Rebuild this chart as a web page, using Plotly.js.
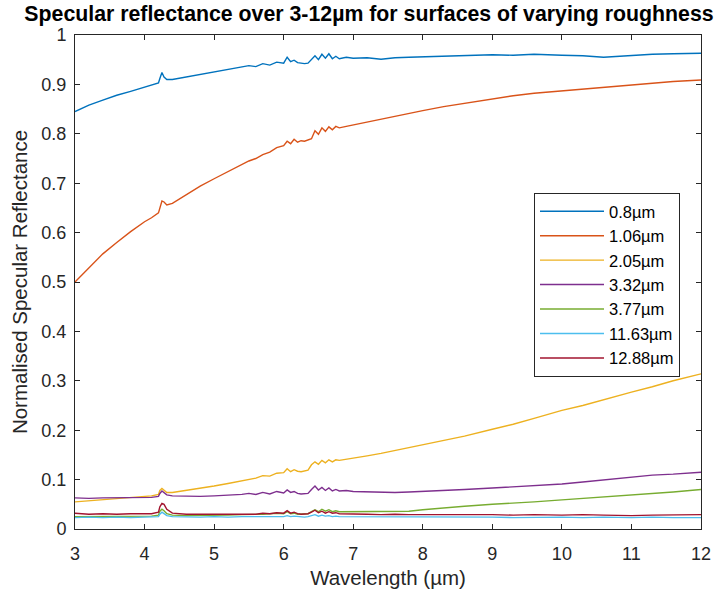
<!DOCTYPE html>
<html>
<head>
<meta charset="utf-8">
<script src="https://cdn.plot.ly/plotly-3.0.1.min.js"></script>
<style>html,body{margin:0;padding:0;background:#fff;}#chart{width:726px;height:592px;}</style>
</head>
<body>
<div id="chart"></div>
<script>
// Wavelength (µm)
const wavelength = [3.0,3.2,3.4,3.6,3.8,4.0,4.1,4.2,4.22,4.25,4.28,4.32,4.4,4.6,4.8,5.0,5.2,5.4,5.5,5.6,5.7,5.8,5.9,6.0,6.05,6.1,6.15,6.2,6.25,6.3,6.35,6.4,6.45,6.5,6.55,6.6,6.65,6.7,6.75,6.8,6.9,7.0,7.2,7.4,7.6,7.8,8.0,8.3,8.6,9.0,9.3,9.6,10.0,10.3,10.6,11.0,11.3,11.6,12.0];

const seriesNames = ["0.8\u00b5m","1.06\u00b5m","2.05\u00b5m","3.32\u00b5m","3.77\u00b5m","11.63\u00b5m","12.88\u00b5m"];
const seriesColors = ["#0072BD","#D95319","#EDB120","#7E2F8E","#77AC30","#4DBEEE","#A2142F"];

const r080 = [0.845,0.858,0.868,0.878,0.886,0.894,0.898,0.903,0.912,0.924,0.915,0.910,0.910,0.915,0.920,0.925,0.929,0.934,0.938,0.936,0.942,0.939,0.945,0.943,0.955,0.946,0.949,0.944,0.943,0.942,0.943,0.950,0.958,0.950,0.961,0.953,0.962,0.952,0.957,0.952,0.955,0.953,0.954,0.951,0.954,0.955,0.956,0.957,0.959,0.960,0.959,0.961,0.959,0.958,0.955,0.959,0.961,0.962,0.963];
const r106 = [0.500,0.529,0.557,0.580,0.602,0.622,0.630,0.640,0.652,0.664,0.662,0.656,0.659,0.677,0.694,0.709,0.723,0.737,0.745,0.750,0.758,0.763,0.772,0.776,0.785,0.780,0.789,0.783,0.786,0.785,0.787,0.790,0.806,0.799,0.812,0.805,0.814,0.808,0.815,0.812,0.815,0.818,0.823,0.829,0.835,0.841,0.847,0.855,0.862,0.871,0.877,0.882,0.887,0.890,0.893,0.899,0.903,0.906,0.909];
const r205 = [0.055,0.057,0.059,0.061,0.063,0.066,0.067,0.070,0.078,0.082,0.079,0.074,0.074,0.078,0.082,0.087,0.092,0.098,0.101,0.103,0.108,0.107,0.113,0.114,0.122,0.116,0.120,0.117,0.116,0.118,0.119,0.130,0.136,0.131,0.139,0.134,0.140,0.136,0.140,0.139,0.141,0.143,0.148,0.153,0.159,0.164,0.170,0.179,0.188,0.202,0.212,0.224,0.240,0.250,0.262,0.277,0.288,0.300,0.314];
const r332 = [0.063,0.062,0.063,0.063,0.063,0.064,0.064,0.066,0.072,0.077,0.074,0.069,0.067,0.066,0.066,0.067,0.068,0.070,0.072,0.070,0.074,0.071,0.076,0.073,0.079,0.074,0.076,0.072,0.071,0.071,0.072,0.080,0.087,0.079,0.084,0.078,0.083,0.077,0.080,0.077,0.078,0.076,0.075,0.075,0.074,0.075,0.076,0.078,0.080,0.083,0.085,0.087,0.091,0.095,0.099,0.104,0.109,0.111,0.115];
const r377 = [0.025,0.025,0.026,0.025,0.025,0.026,0.026,0.028,0.036,0.040,0.037,0.031,0.028,0.027,0.027,0.028,0.028,0.029,0.029,0.030,0.030,0.031,0.032,0.031,0.035,0.031,0.032,0.030,0.030,0.030,0.031,0.035,0.039,0.035,0.040,0.036,0.039,0.035,0.037,0.035,0.035,0.035,0.035,0.035,0.036,0.036,0.039,0.043,0.046,0.050,0.052,0.055,0.059,0.062,0.065,0.068,0.072,0.075,0.080];
const r1163 = [0.023,0.024,0.023,0.024,0.023,0.024,0.024,0.025,0.030,0.034,0.031,0.027,0.025,0.024,0.024,0.025,0.024,0.025,0.025,0.024,0.025,0.024,0.025,0.025,0.027,0.025,0.026,0.025,0.024,0.024,0.025,0.027,0.029,0.026,0.028,0.026,0.027,0.025,0.026,0.025,0.025,0.024,0.024,0.025,0.024,0.024,0.024,0.025,0.024,0.024,0.023,0.024,0.024,0.023,0.024,0.023,0.024,0.023,0.023];
const r1288 = [0.032,0.030,0.031,0.030,0.031,0.030,0.031,0.034,0.045,0.052,0.050,0.040,0.032,0.030,0.030,0.030,0.030,0.031,0.031,0.030,0.032,0.031,0.033,0.032,0.037,0.032,0.034,0.031,0.030,0.030,0.031,0.034,0.038,0.033,0.036,0.032,0.035,0.032,0.033,0.031,0.031,0.030,0.030,0.029,0.030,0.029,0.029,0.030,0.029,0.029,0.028,0.029,0.028,0.029,0.028,0.027,0.028,0.028,0.029];

const xTicks = [3,4,5,6,7,8,9,10,11,12];
const yTicks = [0,0.1,0.2,0.3,0.4,0.5,0.6,0.7,0.8,0.9,1];

const allSeries = [r080, r106, r205, r332, r377, r1163, r1288];
const FONT = "Liberation Sans, Arial, Helvetica, sans-serif";

const traces = allSeries.map((vals, i) => ({
  x: wavelength,
  y: vals,
  type: "scatter",
  mode: "lines",
  name: seriesNames[i],
  line: {color: seriesColors[i], width: 1.4}
}));

const axisCommon = {
  showline: true, mirror: "ticks", linecolor: "#262626", linewidth: 1,
  ticks: "inside", ticklen: 5, tickcolor: "#262626", tickwidth: 1,
  showgrid: false, zeroline: false,
  tickfont: {family: FONT, size: 18, color: "#262626"}
};

const layout = {
  width: 726, height: 592,
  paper_bgcolor: "#ffffff", plot_bgcolor: "#ffffff",
  margin: {l: 75, r: 25, t: 35, b: 63, autoexpand: false},
  title: {
    text: "<b>Specular reflectance over 3-12\u00b5m for surfaces of varying roughness</b>",
    font: {family: FONT, size: 21.3, color: "#000000"},
    x: 369/726, xref: "container", xanchor: "center",
    y: 1 - 14/592, yref: "container", yanchor: "middle"
  },
  xaxis: Object.assign({}, axisCommon, {
    range: [3, 12], tickvals: xTicks, ticktext: xTicks.map(String),
    ticklabelstandoff: 8,
    title: {text: "Wavelength (\u00b5m)", font: {family: FONT, size: 20.5, color: "#262626"}, standoff: 8}
  }),
  yaxis: Object.assign({}, axisCommon, {
    range: [0, 1], tickvals: yTicks, ticktext: yTicks.map(String),
    ticklabelstandoff: 4,
    title: {text: "Normalised Specular Reflectance", font: {family: FONT, size: 20.5, color: "#262626"}, standoff: 8}
  }),
  showlegend: true,
  legend: {
    x: (534-75)/626, xanchor: "left",
    y: (529-193)/494, yanchor: "top",
    bgcolor: "#ffffff", bordercolor: "#262626", borderwidth: 1,
    font: {family: FONT, size: 16.5, color: "#000000"},
    itemwidth: 64,
    traceorder: "normal"
  }
};

Plotly.newPlot("chart", traces, layout, {displayModeBar: false, staticPlot: true});
</script>
</body>
</html>
